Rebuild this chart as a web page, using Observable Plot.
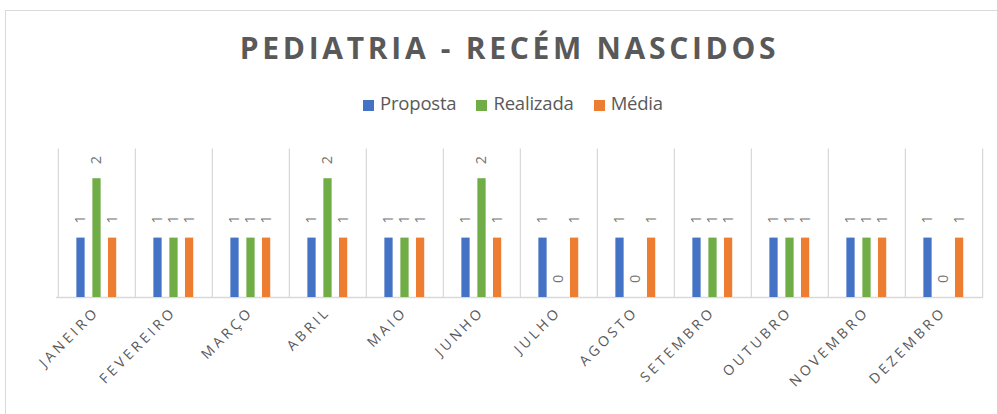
<!DOCTYPE html>
<html><head><meta charset="utf-8">
<script src="https://cdn.jsdelivr.net/npm/d3@7"></script>
<script src="https://cdn.jsdelivr.net/npm/@observablehq/plot@0.6"></script>
<style>
html,body{margin:0;padding:0;background:#fff;overflow:hidden;width:997px;height:414px;}
#wrap{position:relative;width:997px;height:414px;font-family:"Open Sans",sans-serif;}
#frame{position:absolute;left:5px;top:10px;width:1020px;height:440px;border:1px solid #d9d9d9;box-sizing:border-box;}
#title{position:absolute;left:0;top:27px;width:1019px;text-align:center;font-weight:bold;font-size:30px;letter-spacing:3.7px;color:#595959;}
#legend{position:absolute;left:0;top:90px;width:1026px;text-align:center;font-size:18.5px;color:#595959;letter-spacing:-0.2px;}
#legend span.item{margin:0 10px;}
#legend i{display:inline-block;width:11px;height:11px;margin-right:6px;vertical-align:-1px;}
#chart{position:absolute;left:0;top:130px;}
#chart [aria-label^="x-axis"] text{letter-spacing:3.4px;}
</style></head>
<body><div id="wrap"><div id="frame"></div>
<div id="title">PEDIATRIA - RECÉM NASCIDOS</div>
<div id="legend"></div>
<div id="chart"></div></div>
<script>
const months = ["JANEIRO","FEVEREIRO","MARÇO","ABRIL","MAIO","JUNHO","JULHO","AGOSTO","SETEMBRO","OUTUBRO","NOVEMBRO","DEZEMBRO"];
const seriesNames = ["Proposta","Realizada","Média"];
const seriesColors = ["#4472C4","#70AD47","#ED7D31"];
const proposta = [1,1,1,1,1,1,1,1,1,1,1,1];
const realizada = [2,1,1,2,1,2,0,0,1,1,1,0];
const media = [1,1,1,1,1,1,1,1,1,1,1,1];

const seriesValues = [proposta, realizada, media];
const W = 997, ML = 56, MR = 14;
const bw = (W - ML - MR) / months.length;
const barW = 8.5;
const offsets = [-16, 0, 15.6];

const legend = document.getElementById("legend");
seriesNames.forEach((s,i)=>{
  const sp = document.createElement("span"); sp.className="item";
  sp.innerHTML = `<i style="background:${seriesColors[i]}"></i>${s}`;
  legend.appendChild(sp);
});

const marks = [
  Plot.ruleX(months, {x: d=>d, dx: -bw/2, y1: 0, y2: 2.5, stroke: "#d9d9d9", strokeWidth: 1.3}),
  Plot.ruleX([months[months.length-1]], {x: d=>d, dx: bw/2, y1: 0, y2: 2.5, stroke: "#d9d9d9", strokeWidth: 1.3}),
  Plot.ruleY([0], {stroke: "#d9d9d9", strokeWidth: 1.3})
];
seriesValues.forEach((vals,i)=>{
  const data = months.map((m,j)=>({m, v: vals[j]}));
  const inset = (bw - barW)/2;
  marks.push(Plot.barY(data, {x: "m", y: "v", fill: seriesColors[i], dx: offsets[i], insetLeft: inset, insetRight: inset}));
  marks.push(Plot.text(data, {x: "m", y: "v", text: d=>String(d.v), dx: offsets[i] - 0.5, dy: -14.5, rotate: -90, textAnchor: "start", lineAnchor: "middle", fill: "#737373", fontSize: 14.5}));
});

const chart = Plot.plot({
  width: W, height: 284,
  marginLeft: ML, marginRight: MR, marginTop: 18.5, marginBottom: 117,
  style: {fontFamily: "'Open Sans', sans-serif", color: "#595959", background: "transparent"},
  x: {domain: months, padding: 0, label: null, tickSize: 0, tickPadding: 12, tickRotate: -45},
  y: {domain: [0, 2.5], axis: null},
  marks
});
chart.querySelectorAll('[aria-label^="x-axis"] text').forEach(t=>{t.style.fontSize="14px"; t.setAttribute("fill","#595959");});
chart.querySelectorAll('[aria-label^="x-axis"] g[transform], [aria-label^="x-axis"] text').length;
document.getElementById("chart").appendChild(chart);
</script></body></html>
